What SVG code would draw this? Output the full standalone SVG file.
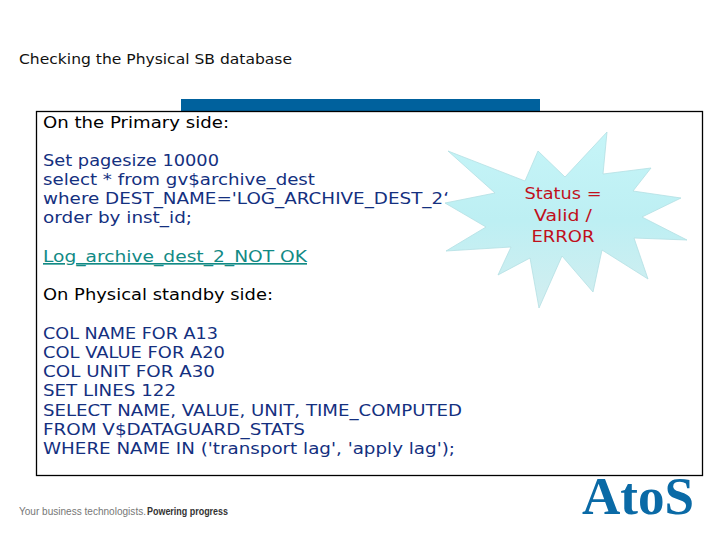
<svg xmlns="http://www.w3.org/2000/svg" width="720" height="540" viewBox="0 0 720 540">
<style>
text{font-family:"DejaVu Sans","Liberation Sans",sans-serif;white-space:pre}
.b{font-size:16.500px;fill:#000}
.c{font-size:16.500px;fill:#14307f}
.g{font-size:16.500px;fill:#128a85}
.s{font-size:16.500px;fill:#c0101c;text-anchor:middle}
.f{font-size:10px;font-family:"Liberation Sans",sans-serif}
</style>
<defs><linearGradient id="st" x1="0" y1="0" x2="0" y2="1"><stop offset="0" stop-color="#c6f5f8"/><stop offset="0.5" stop-color="#bdeff3"/><stop offset="1" stop-color="#d3eef0"/></linearGradient></defs>
<rect width="720" height="540" fill="#fff"/>
<text id="title" x="19" y="64" font-size="13.500" fill="#111" textLength="273" lengthAdjust="spacingAndGlyphs">Checking the Physical SB database</text>
<rect id="bar" x="181" y="99" width="359" height="12" fill="#00619d"/>
<g id="box">
<rect x="36.500" y="111.500" width="666" height="364" fill="#fff" stroke="#000" stroke-width="1.300"/>
<text class="b" x="43" y="128" textLength="186" lengthAdjust="spacingAndGlyphs">On the Primary side:</text>
<text class="c" x="43" y="166" textLength="176" lengthAdjust="spacingAndGlyphs">Set pagesize 10000</text>
<text class="c" x="43" y="185" textLength="272" lengthAdjust="spacingAndGlyphs">select * from gv$archive_dest</text>
<text class="c" x="43" y="204" textLength="406" lengthAdjust="spacingAndGlyphs">where DEST_NAME='LOG_ARCHIVE_DEST_2‘</text>
<text class="c" x="43" y="223" textLength="149" lengthAdjust="spacingAndGlyphs">order by inst_id;</text>
<text class="g" x="43" y="262" textLength="264" lengthAdjust="spacingAndGlyphs" text-decoration="underline">Log_archive_dest_2_NOT OK</text>
<text class="b" x="43" y="300" textLength="230" lengthAdjust="spacingAndGlyphs">On Physical standby side:</text>
<text class="c" x="43" y="339" textLength="175" lengthAdjust="spacingAndGlyphs">COL NAME FOR A13</text>
<text class="c" x="43" y="358" textLength="182" lengthAdjust="spacingAndGlyphs">COL VALUE FOR A20</text>
<text class="c" x="43" y="377" textLength="172" lengthAdjust="spacingAndGlyphs">COL UNIT FOR A30</text>
<text class="c" x="43" y="396" textLength="133" lengthAdjust="spacingAndGlyphs">SET LINES 122</text>
<text class="c" x="43" y="416" textLength="419" lengthAdjust="spacingAndGlyphs">SELECT NAME, VALUE, UNIT, TIME_COMPUTED</text>
<text class="c" x="43" y="435" textLength="262" lengthAdjust="spacingAndGlyphs">FROM V$DATAGUARD_STATS</text>
<text class="c" x="43" y="454" textLength="412" lengthAdjust="spacingAndGlyphs">WHERE NAME IN ('transport lag', 'apply lag');</text>
</g>
<g id="status">
<polygon points="448,151 525,181 538,151 565,177 607,132 603,174 651,168 633,191 681,198 642,217 687,240 634,238 648,279 602,250 593,292 562,256 539,308 530,258 498,275 511,247 446,251 486,227 445,203 495,193" fill="url(#st)" stroke="#b4dfe3" stroke-width="0.800"/>
<text class="s" x="563" y="199" textLength="77" lengthAdjust="spacingAndGlyphs">Status =</text>
<text class="s" x="563" y="221" textLength="58" lengthAdjust="spacingAndGlyphs">Valid /</text>
<text class="s" x="563" y="242" textLength="63" lengthAdjust="spacingAndGlyphs">ERROR</text>
</g>
<text class="f" id="footer1" x="19" y="515" fill="#777" textLength="127" lengthAdjust="spacingAndGlyphs">Your business technologists.</text>
<text class="f" id="footer2" x="147" y="515" fill="#333" font-weight="bold" textLength="81" lengthAdjust="spacingAndGlyphs">Powering progress</text>
<text id="logo" x="582" y="514" font-size="52" font-weight="bold" fill="#0a6aa6" style="font-family:'Liberation Serif',serif" textLength="112" lengthAdjust="spacingAndGlyphs">AtoS</text>
</svg>
